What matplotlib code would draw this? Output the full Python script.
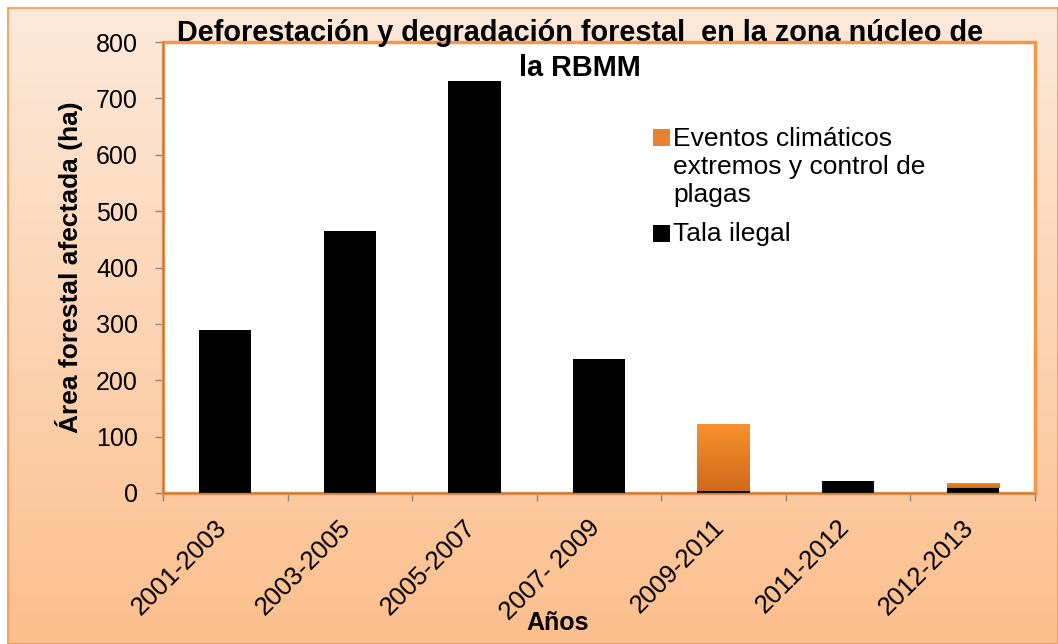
import numpy as np
import matplotlib
matplotlib.use("Agg")
from matplotlib import pyplot as plt
from matplotlib.patches import Rectangle
from matplotlib.colors import LinearSegmentedColormap
from matplotlib.transforms import ScaledTranslation

periodos = ['2001-2003', '2003-2005', '2005-2007', '2007- 2009',
            '2009-2011', '2011-2012', '2012-2013']
tala_ilegal = [289, 465, 731, 238, 3, 22, 8]
eventos_climaticos = [0, 0, 0, 0, 119, 0, 10]
leyenda = ['Eventos climáticos\nextremos y control de\nplagas', 'Tala ilegal']

plt.rcParams['font.family'] = ['Liberation Sans', 'DejaVu Sans']

naranja = '#f79646'
naranja_barra = '#e8822e'
gris = '#868686'
W, H = 1058, 644

fig = plt.figure(figsize=(W / 100, H / 100), dpi=100)

# fondo degradado con borde naranja
bg = fig.add_axes([8/W, 0, 1 - 8/W, 1 - 8/H], zorder=0)
grad = np.linspace(0, 1, 256).reshape(-1, 1)
bg_cmap = LinearSegmentedColormap.from_list('bg', ['#fde9da', '#fcbf8d'])
bg.imshow(grad, cmap=bg_cmap, aspect='auto', extent=[0, 1, 0, 1], origin='upper')
bg.set_xticks([])
bg.set_yticks([])
for s in bg.spines.values():
    s.set_color(naranja)
    s.set_linewidth(1.2)

ax = fig.add_axes([163/W, 151/H, 872/W, 451/H], zorder=1)
x = np.arange(len(periodos))
w = 0.42

ax.bar(x, tala_ilegal, width=w, color='black', zorder=3)
barras = ax.bar(x, eventos_climaticos, width=w, bottom=tala_ilegal,
                color=naranja_barra, zorder=3)

# degradado en las barras naranjas
bar_cmap = LinearSegmentedColormap.from_list('bar', ['#f8922e', '#d0691a'])
for b in barras:
    if b.get_height() <= 0:
        continue
    x0, y0 = b.get_x(), b.get_y()
    im = ax.imshow(grad, cmap=bar_cmap, aspect='auto', origin='upper', zorder=3,
                   extent=[x0, x0 + b.get_width(), y0, y0 + b.get_height()])
    im.set_clip_path(b)

ax.set_xlim(-0.5, 6.5)
ax.set_ylim(0, 800)
ax.set_facecolor('white')

ax.add_patch(Rectangle((0, 0), 1, 1, transform=ax.transAxes, fill=False,
                       ec=naranja, lw=2.5, zorder=2, clip_on=False))
for s in ['top', 'right']:
    ax.spines[s].set_visible(False)
for s in ['left', 'bottom']:
    ax.spines[s].set_color(gris)
    ax.spines[s].set_linewidth(1)
    ax.spines[s].set_zorder(4)

ax.set_yticks(range(0, 801, 100))
ax.tick_params(axis='y', direction='out', length=6, width=1, color=gris,
               labelsize=18, pad=12)
ax.set_xticks(x)
ax.set_xticklabels(periodos, rotation=45, ha='right', va='top')
ax.set_xticks(np.arange(-0.5, 7, 1), minor=True)
ax.tick_params(axis='x', which='major', length=0, labelsize=18.5, pad=16)
ax.tick_params(axis='x', which='minor', direction='out', length=6, width=1, color=gris)
desplaza = ScaledTranslation(6/100, 0, fig.dpi_scale_trans)
for lbl in ax.get_xticklabels():
    lbl.set_transform(lbl.get_transform() + desplaza)

ax.set_ylabel('Área forestal afectada (ha)', fontsize=19, fontweight='bold')
ax.yaxis.set_label_coords(-0.092, 0.5)
ax.set_xlabel('Años', fontsize=18, fontweight='bold')
ax.xaxis.set_label_coords(0.452, -0.262)

fig.text(580/W, 1 - 19/H,
         'Deforestación y degradación forestal  en la zona núcleo de\nla RBMM',
         ha='center', va='top', fontsize=20.8, fontweight='bold', linespacing=1.32,
         zorder=5)

# leyenda
colores_ley = [naranja_barra, 'black']
tops = [129, 225]
text_tops = [127, 222]
for c, t, tt, lab in zip(colores_ley, tops, text_tops, leyenda):
    fig.add_artist(Rectangle((653/W, 1 - (t + 17)/H), 17/W, 17/H,
                             transform=fig.transFigure, fc=c, ec='none', zorder=5))
    fig.text(673/W, 1 - tt/H, lab, ha='left', va='top', fontsize=19,
             linespacing=1.2, zorder=5)

plt.savefig('out.png', dpi=100)
